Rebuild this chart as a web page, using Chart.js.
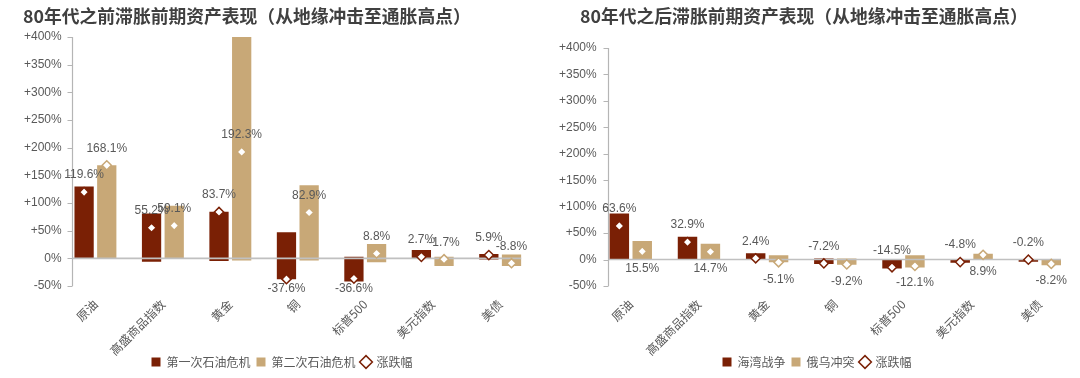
<!DOCTYPE html>
<html><head><meta charset="utf-8">
<script src="https://cdn.jsdelivr.net/npm/chart.js@4.4.1/dist/chart.umd.min.js"></script>
<style>
html,body{margin:0;padding:0;background:#fff;}
body{width:1080px;height:378px;overflow:hidden;position:relative;font-family:"Noto Sans CJK SC","Noto Sans",sans-serif;}
.panel{position:absolute;top:0;width:540px;height:378px;}
.title{position:absolute;top:2px;font-size:17.8px;font-weight:bold;color:#404040;white-space:nowrap;z-index:2;line-height:26px;}
canvas{position:absolute;left:0;top:0;}
</style></head>
<body>
<div class="panel" style="left:0px"><div class="title" style="left:23px">80年代之前滞胀前期资产表现（从地缘冲击至通胀高点）</div><canvas id="c1" width="540" height="378"></canvas></div>
<div class="panel" style="left:540px"><div class="title" style="left:40px">80年代之后滞胀前期资产表现（从地缘冲击至通胀高点）</div><canvas id="c2" width="540" height="378"></canvas></div>
<script>
// ---------- data ----------
const categories = ['原油','高盛商品指数','黄金','铜','标普500','美元指数','美债'];
const yMin = -50, yMax = 400, yStep = 50;

// left panel: before the 1980s
const leftNames = ['第一次石油危机','第二次石油危机'];
const leftS1Low  = [0, -6, -5, -38, -42, 0, -2];
const leftS1High = [130, 81, 84, 47, 3, 15, 8];
const leftS2Low  = [0, -1, -4, -4, -7, -14, -14];
const leftS2High = [168, 95, 420, 132, 26, 3, 7];
const leftS1Change = [119.6, 55.2, 83.7, -37.6, -36.6, 2.7, 5.9];
const leftS2Change = [168.1, 59.1, 192.3, 82.9, 8.8, -1.7, -8.8];

// right panel: after the 1980s
const rightNames = ['海湾战争','俄乌冲突'];
const rightS1Low  = [0, 0, -1, -8.5, -17, -6, -4];
const rightS1High = [87, 43, 12, 2, 0, 0, 1];
const rightS2Low  = [0, 0, -5, -10, -15, 0, -11];
const rightS2High = [35, 30, 8, 2, 8, 11, 0];
const rightS1Change = [63.6, 32.9, 2.4, -7.2, -14.5, -4.8, -0.2];
const rightS2Change = [15.5, 14.7, -5.1, -9.2, -12.1, 8.9, -8.2];

const changeName = '涨跌幅';

// ---------- style ----------
const C1 = '#7A2005', C2 = '#C8A877';
const AXIS = '#B5B5B5', ZERO = '#C0C0C0', TXT = '#595959';
const NUMFONT = '"Liberation Sans", Arial, sans-serif';
const CJKFONT = '"Noto Sans CJK SC", sans-serif';
const CAT_PCT = 0.672, BAR_PCT = 0.85;

function makeDecor(p) {
  return {
    id: 'decor',
    afterLayout(chart) {
      // let the rotated category labels run into the legend band without being clipped
      chart.scales.x.bottom = chart.height;
    },
    afterDatasetsUpdate(chart) {
      // place each change marker on the centre of its own bar
      [2, 3].forEach((di, s) => {
        const bars = chart.getDatasetMeta(s).data;
        chart.getDatasetMeta(di).data.forEach((pt, i) => { pt.x = bars[i].x; });
      });
    },
    beforeDatasetsDraw(chart) {
      chart.$zeroDone = false;
      const {ctx, scales: {y}} = chart;
      const b0 = chart.getDatasetMeta(0).data[0];
      const ax = Math.round(b0.x - b0.width / 2) - 1.5;
      chart.$axisX = ax;
      ctx.save();
      ctx.strokeStyle = AXIS; ctx.lineWidth = 1.2;
      ctx.beginPath();
      ctx.moveTo(ax, y.getPixelForValue(y.max));
      ctx.lineTo(ax, y.getPixelForValue(y.min));
      y.ticks.forEach(t => { const py = Math.round(y.getPixelForValue(t.value)) + 0.5; ctx.moveTo(ax - 5, py); ctx.lineTo(ax, py); });
      ctx.stroke();
      ctx.restore();
    },
    beforeDatasetDraw(chart, args) {
      if (args.meta.type === 'line' && !chart.$zeroDone) {
        chart.$zeroDone = true;
        const {ctx, scales: {y}} = chart;
        const m1 = chart.getDatasetMeta(1).data;
        const last = m1[m1.length - 1];
        const py = y.getPixelForValue(0);
        ctx.save();
        ctx.strokeStyle = ZERO; ctx.lineWidth = 1.6;
        ctx.beginPath(); ctx.moveTo(chart.$axisX, py); ctx.lineTo(last.x + last.width / 2, py); ctx.stroke();
        ctx.restore();
      }
    },
    afterDatasetsDraw(chart) {
      const {ctx} = chart;
      ctx.save();
      ctx.font = '12px ' + NUMFONT;
      ctx.fillStyle = TXT; ctx.textAlign = 'center'; ctx.textBaseline = 'middle';
      [2, 3].forEach((di, s) => {
        const meta = chart.getDatasetMeta(di);
        const vals = chart.data.datasets[di].data;
        meta.data.forEach((pt, i) => {
          const v = vals[i];
          const ty = pt.y + (p.below(s, v) ? p.belowOff : -17);
          ctx.fillText(v.toFixed(1) + '%', pt.x, ty);
        });
      });
      ctx.restore();
    }
  };
}

function build(id, p) {
  const barDs = (name, lo, hi, col) => ({
    type: 'bar', label: name, data: lo.map((l, i) => [l, hi[i]]),
    backgroundColor: col, borderWidth: 0, order: 2,
    categoryPercentage: CAT_PCT, barPercentage: BAR_PCT, pointStyle: 'rect'
  });
  const dotDs = (vals, col) => ({
    type: 'line', label: changeName, data: vals, showLine: false, order: 1,
    pointStyle: 'rectRot', pointRadius: 4.6, pointBackgroundColor: '#ffffff',
    pointBorderColor: col, pointBorderWidth: 1.5, backgroundColor: '#ffffff', borderColor: col, borderWidth: 1.5
  });
  return new Chart(document.getElementById(id), {
    type: 'bar',
    data: {
      labels: categories,
      datasets: [
        barDs(p.names[0], p.s1Low, p.s1High, C1),
        barDs(p.names[1], p.s2Low, p.s2High, C2),
        dotDs(p.s1Change, C1),
        dotDs(p.s2Change, C2)
      ]
    },
    options: {
      responsive: false, animation: false, events: [],
      layout: {padding: p.padding},
      scales: {
        x: {
          type: 'category', offset: true,
          grid: {display: false}, border: {display: false},
          afterFit: sc => { sc.height = 64; },
          ticks: {maxRotation: 45, minRotation: 45, padding: 3, color: TXT, font: {family: CJKFONT, size: 12}, autoSkip: false}
        },
        y: {
          min: yMin, max: yMax,
          grid: {display: false, drawTicks: false}, border: {display: false},
          ticks: {stepSize: yStep, padding: 0, color: TXT, font: {family: NUMFONT, size: 12},
            callback: v => (v > 0 ? '+' : '') + v + '%'}
        }
      },
      plugins: {
        tooltip: {enabled: false},
        legend: {
          position: 'bottom',
          labels: {usePointStyle: true, boxWidth: 9, boxHeight: 9, padding: 6, color: TXT,
            font: {family: CJKFONT, size: 12},
            filter: item => item.datasetIndex !== 3,
            sort: (a, b) => a.datasetIndex - b.datasetIndex}
        }
      }
    },
    plugins: [makeDecor(p)]
  });
}

build('c1', {
  names: leftNames, s1Low: leftS1Low, s1High: leftS1High, s2Low: leftS2Low, s2High: leftS2High,
  s1Change: leftS1Change, s2Change: leftS2Change,
  padding: {left: 24, right: 0, top: 37, bottom: 0},
  below: (s, v) => v < -20, belowOff: 10
});
build('c2', {
  names: rightNames, s1Low: rightS1Low, s1High: rightS1High, s2Low: rightS2Low, s2High: rightS2High,
  s1Change: rightS1Change, s2Change: rightS2Change,
  padding: {left: 19, right: 5, top: 48, bottom: 0},
  below: (s, v) => s === 1, belowOff: 17
});
</script>
</body></html>
